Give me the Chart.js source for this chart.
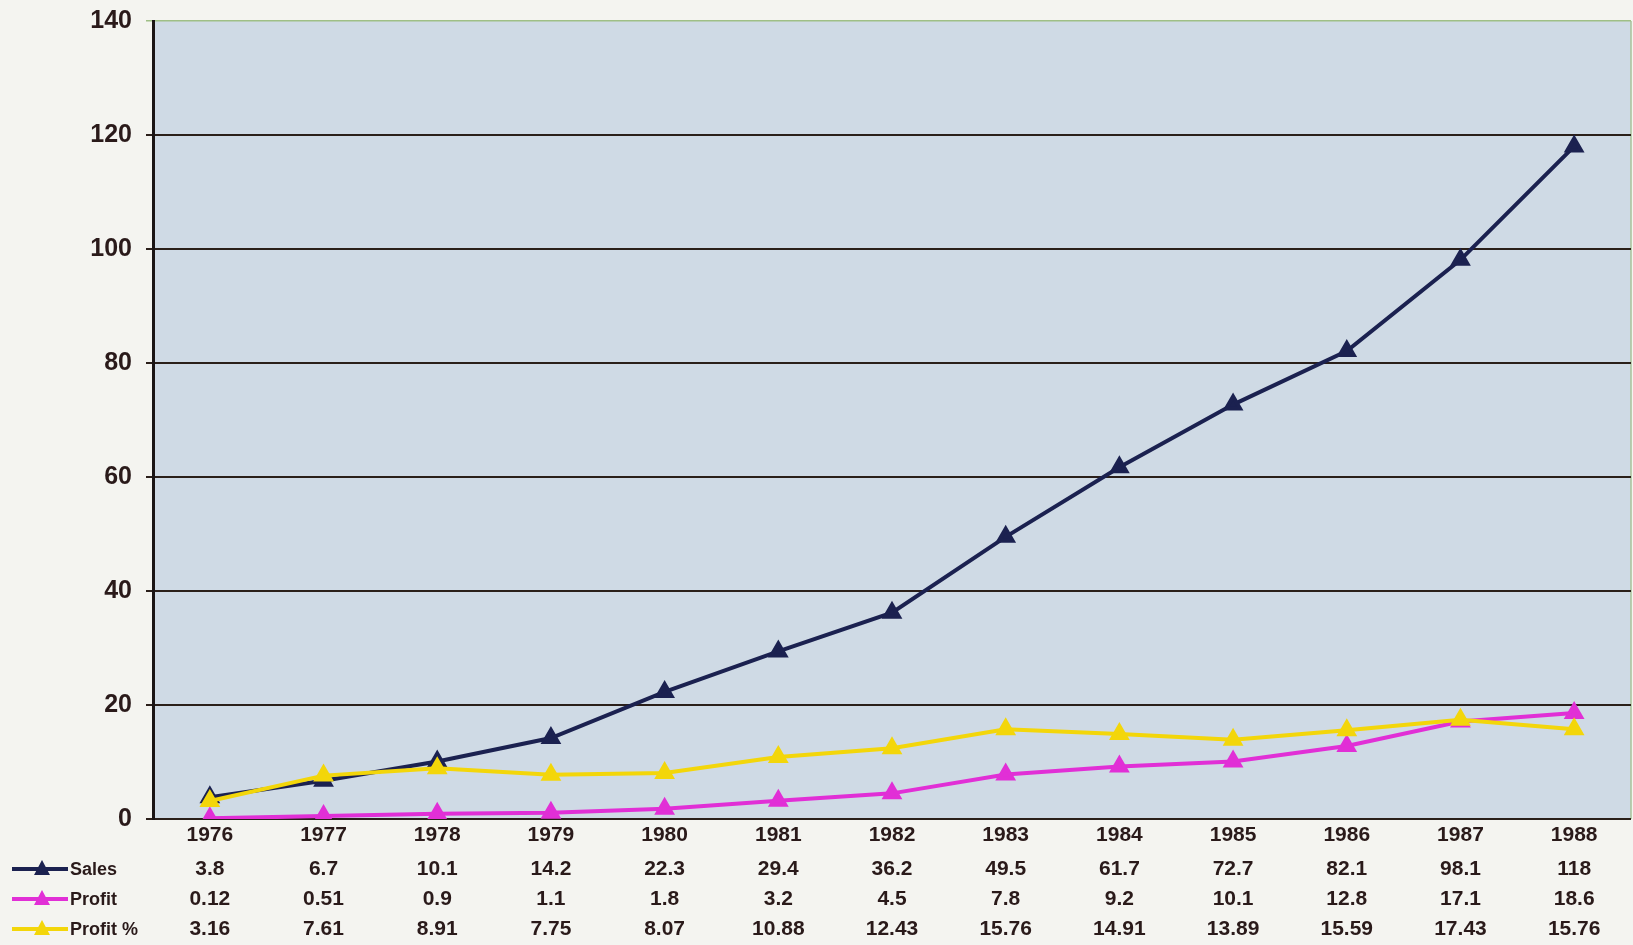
<!DOCTYPE html>
<html>
<head>
<meta charset="utf-8">
<script src="https://cdn.jsdelivr.net/npm/chart.js@4.4.1/dist/chart.umd.min.js"></script>
<style>
  body { margin: 0; background: #f4f4f0; }
  #wrap { width: 1633px; height: 945px; position: relative; }
</style>
</head>
<body>
<div id="wrap"><canvas id="canvas"></canvas></div>
<script>
const years = ['1976', '1977', '1978', '1979', '1980', '1981', '1982', '1983', '1984', '1985', '1986', '1987', '1988'];
const sales = [3.8, 6.7, 10.1, 14.2, 22.3, 29.4, 36.2, 49.5, 61.7, 72.7, 82.1, 98.1, 118];
const profit = [0.12, 0.51, 0.9, 1.1, 1.8, 3.2, 4.5, 7.8, 9.2, 10.1, 12.8, 17.1, 18.6];
const profitPct = [3.16, 7.61, 8.91, 7.75, 8.07, 10.88, 12.43, 15.76, 14.91, 13.89, 15.59, 17.43, 15.76];
const yTicks = [0, 20, 40, 60, 80, 100, 120, 140];

const seriesNames = ['Sales', 'Profit', 'Profit %'];
const seriesColors = ['#1b2150', '#e12fd6', '#f3d60a'];
const textColor = '#2a1a1a';

// light blue plot area behind the lines
const plotBg = {
    id: 'plotBg',
    beforeDraw(chart) {
        const a = chart.chartArea;
        const ctx = chart.ctx;
        ctx.save();
        ctx.fillStyle = '#cfdae5';
        ctx.fillRect(a.left, a.top, a.right - a.left, a.bottom - a.top);
        ctx.strokeStyle = '#a9c29a';
        ctx.lineWidth = 1.5;
        ctx.beginPath();
        ctx.moveTo(a.right, a.top);
        ctx.lineTo(a.right, a.bottom);
        ctx.stroke();
        ctx.restore();
    }
};

// data table under the x axis, with legend keys
const dataTable = {
    id: 'dataTable',
    afterDraw(chart) {
        const ctx = chart.ctx;
        const x = chart.scales.x;
        const base = chart.chartArea.bottom + 50;
        ctx.save();
        chart.data.datasets.forEach(function (ds, i) {
            const y = base + i * 30;
            // legend key
            ctx.strokeStyle = ds.borderColor;
            ctx.lineWidth = 4;
            ctx.beginPath();
            ctx.moveTo(12, y);
            ctx.lineTo(68, y);
            ctx.stroke();
            ctx.fillStyle = ds.borderColor;
            ctx.beginPath();
            ctx.moveTo(42, y - 9);
            ctx.lineTo(50, y + 6);
            ctx.lineTo(34, y + 6);
            ctx.closePath();
            ctx.fill();
            ctx.fillStyle = textColor;
            ctx.font = 'bold 18px "Liberation Sans"';
            ctx.textAlign = 'left';
            ctx.textBaseline = 'middle';
            ctx.fillText(ds.label, 70, y + 1);
            // values
            ctx.font = 'bold 21px "Liberation Sans"';
            ctx.textAlign = 'center';
            ds.data.forEach(function (v, j) {
                ctx.fillText(String(v), x.getPixelForValue(j), y);
            });
        });
        ctx.restore();
    }
};

function makeSet(idx, values, order) {
    return {
        label: seriesNames[idx],
        data: values,
        borderColor: seriesColors[idx],
        backgroundColor: seriesColors[idx],
        borderWidth: 4,
        pointStyle: 'triangle',
        pointRadius: 8,
        pointHoverRadius: 8,
        tension: 0,
        order: order
    };
}

const ctx = document.getElementById('canvas').getContext('2d');
const myChart = new Chart(ctx, {
    type: 'line',
    data: {
        labels: years,
        datasets: [
            makeSet(0, sales, 3),
            makeSet(1, profit, 2),
            makeSet(2, profitPct, 1)
        ]
    },
    options: {
        responsive: true,
        maintainAspectRatio: false,
        animation: false,
        layout: { autoPadding: false, padding: { top: 21, right: 2, left: 0, bottom: 0 } },
        plugins: {
            legend: { display: false },
            tooltip: { enabled: false }
        },
        scales: {
            x: {
                offset: true,
                grid: { display: false, drawTicks: false },
                border: { display: false },
                ticks: {
                    color: textColor,
                    padding: 4,
                    maxRotation: 0,
                    font: { family: 'Liberation Sans', size: 21, weight: 'bold' }
                },
                afterFit(scale) { scale.height = 126; }
            },
            y: {
                min: 0,
                max: 140,
                afterBuildTicks(scale) {
                    scale.ticks = yTicks.map(v => ({ value: v }));
                },
                grid: {
                    color: ctx => ctx.tick && ctx.tick.value === 140 ? '#9fbf86' : '#2a1f1a',
                    lineWidth: ctx => ctx.tick && ctx.tick.value === 140 ? 1.5 : 2,
                    tickLength: 7
                },
                border: { color: '#1a1414', width: 3 },
                ticks: {
                    color: textColor,
                    padding: 14,
                    font: { family: 'Liberation Sans', size: 25, weight: 'bold' }
                },
                afterFit(scale) {
                    scale.width = 153;
                    scale.paddingTop = 0;
                    scale.paddingBottom = 0;
                }
            }
        }
    },
    plugins: [plotBg, dataTable]
});
</script>
</body>
</html>
